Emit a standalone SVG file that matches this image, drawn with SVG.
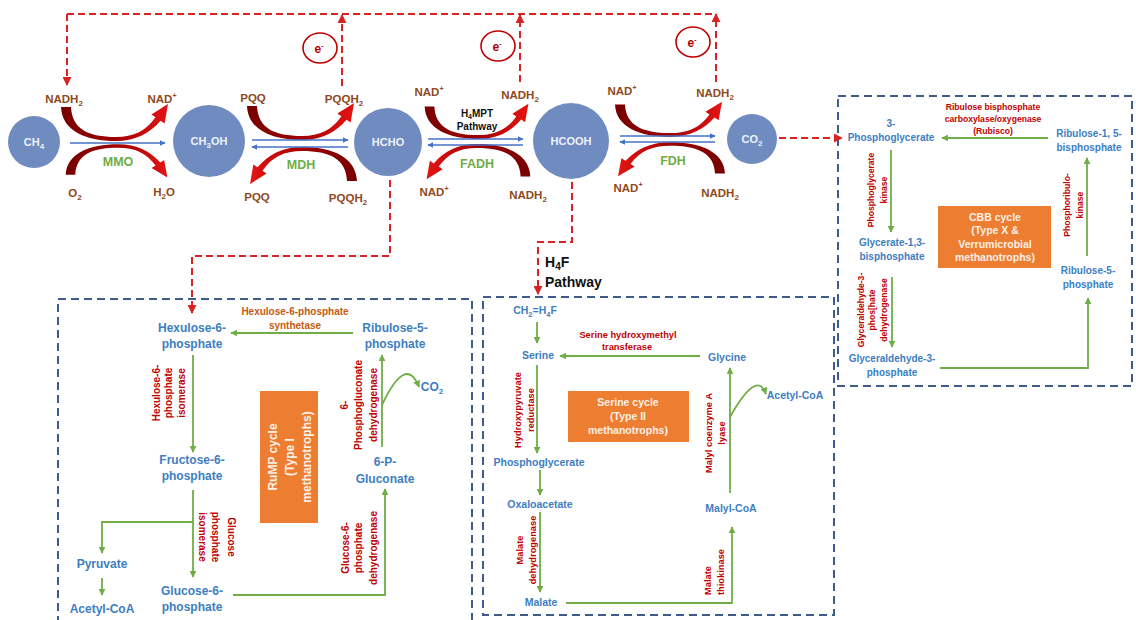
<svg xmlns="http://www.w3.org/2000/svg" width="1136" height="620" viewBox="0 0 1136 620">
<style>
text{font-family:"Liberation Sans",Arial,sans-serif;font-weight:bold;}
.c{fill:#6F8BC0;}
.ct{fill:#EEF2FA;font-size:11px;text-anchor:middle;}
.br{fill:#8E4A1E;font-size:11.5px;text-anchor:middle;}
.gr{fill:#70AD47;font-size:12.5px;text-anchor:middle;}
.bk{fill:#111;}
.bkm{fill:#111;text-anchor:middle;}
.b1{fill:#3D7EC2;font-size:12px;text-anchor:middle;}
.b2{fill:#3D7EC2;font-size:10.5px;text-anchor:middle;}
.b3{fill:#3D7EC2;font-size:10px;text-anchor:middle;}
.r1{fill:#C00000;font-size:10px;text-anchor:middle;}
.r2{fill:#C00000;font-size:9.3px;text-anchor:middle;}
.r2s{fill:#C00000;font-size:9.3px;text-anchor:start;}
.r3{fill:#C00000;font-size:8.6px;text-anchor:middle;}
.or{fill:#C55A11;font-size:10px;text-anchor:middle;}
.ob{fill:#ED7D31;}
.ot{fill:#FDF0E6;text-anchor:middle;}
.box{fill:none;stroke:#3E5C8A;stroke-width:2;stroke-dasharray:8 5;}
.gl{fill:none;stroke:#70AD47;stroke-width:1.8;}
.bl{fill:none;stroke:#4472C4;stroke-width:1.5;}
.rd{fill:none;stroke:#D92323;stroke-width:2;stroke-dasharray:7 4;}
.el{fill:none;stroke:#C00000;stroke-width:1.6;}
.et{fill:#B00000;font-size:12px;text-anchor:middle;}
</style>
<defs>
<linearGradient id="rg" x1="0" y1="0" x2="1" y2="0">
<stop offset="0" stop-color="#760000"/><stop offset="0.5" stop-color="#A00000"/><stop offset="1" stop-color="#E51414"/>
</linearGradient>
<path id="crv" fill="url(#rg)" d="M-55,-32 C-54,-8 -30,2 0,2 C20,2 34,-6 44.5,-18.3 L48.6,-15.6 L52,-35 L35.4,-24.4 L39.5,-21.7 C30,-8 18,-2 0,-2 C-28,-2 -44,-10 -45,-32 Z"/>
<marker id="ag" viewBox="0 0 10 10" refX="9" refY="5" markerWidth="7" markerHeight="7" orient="auto" markerUnits="userSpaceOnUse"><path d="M0,0 L10,5 L0,10 z" fill="#70AD47"/></marker>
<marker id="ab" viewBox="0 0 10 10" refX="9" refY="5" markerWidth="6" markerHeight="6" orient="auto" markerUnits="userSpaceOnUse"><path d="M0,0 L10,5 L0,10 z" fill="#4472C4"/></marker>
<marker id="ar" viewBox="0 0 10 10" refX="9" refY="5" markerWidth="9" markerHeight="9" orient="auto" markerUnits="userSpaceOnUse"><path d="M0,0 L10,5 L0,10 z" fill="#D92323"/></marker>
</defs>

<rect width="1136" height="620" fill="#ffffff"/>

<!-- boxes -->
<g id="box-rump"><rect class="box" x="58" y="299" width="414" height="340"/></g>
<g id="box-serine"><rect class="box" x="483" y="297" width="351" height="318"/></g>
<g id="box-cbb"><rect class="box" x="838" y="96" width="294" height="290"/></g>

<!-- connectors -->
<g id="connectors">
  <use href="#crv" transform="translate(116,139)"/>
  <use href="#crv" transform="translate(118,146) scale(0.95,-0.9)"/>
  <use href="#crv" transform="translate(302,138)"/>
  <use href="#crv" transform="translate(302,149) scale(-1,-1)"/>
  <use href="#crv" transform="translate(478,137) scale(0.97,0.95)"/>
  <use href="#crv" transform="translate(477,146) scale(-0.97,-0.95)"/>
  <use href="#crv" transform="translate(670,135) scale(1,0.95)"/>
  <use href="#crv" transform="translate(670,144) scale(-1,-0.92)"/>
  <path class="bl" d="M70,143 H165" marker-end="url(#ab)"/>
  <path class="bl" d="M252,140 H348" marker-end="url(#ab)"/>
  <path class="bl" d="M348,147 H252" marker-end="url(#ab)"/>
  <path class="bl" d="M428,139 H523" marker-end="url(#ab)"/>
  <path class="bl" d="M523,145 H428" marker-end="url(#ab)"/>
  <path class="bl" d="M620,136 H715" marker-end="url(#ab)"/>
  <path class="bl" d="M715,142 H620" marker-end="url(#ab)"/>
  <path class="rd" d="M67,14 H716"/>
  <path class="rd" d="M67,14 V85" marker-end="url(#ar)"/>
  <path class="rd" d="M342,86 V15" marker-end="url(#ar)"/>
  <path class="rd" d="M520,82 V15" marker-end="url(#ar)"/>
  <path class="rd" d="M716,82 V14" marker-end="url(#ar)"/>
  <path class="rd" d="M390,180 V256 H192 V313" marker-end="url(#ar)"/>
  <path class="rd" d="M572,182 V242 H538 V294" marker-end="url(#ar)"/>
  <path class="rd" d="M779,138 H842" marker-end="url(#ar)"/>
  <path class="gl" d="M353,333 H231" marker-end="url(#ag)"/>
  <path class="gl" d="M193,355 V452" marker-end="url(#ag)"/>
  <path class="gl" d="M193,490 V577" marker-end="url(#ag)"/>
  <path class="gl" d="M193,522 H102 V553" marker-end="url(#ag)"/>
  <path class="gl" d="M102,578 V595" marker-end="url(#ag)"/>
  <path class="gl" d="M233,595 H385 V489" marker-end="url(#ag)"/>
  <path class="gl" d="M382,447 V355" marker-end="url(#ag)"/>
  <path class="gl" d="M382,405 Q406,354 419,387" marker-end="url(#ag)"/>
  <path class="gl" d="M537,322 V343" marker-end="url(#ag)"/>
  <path class="gl" d="M700,356 H560" marker-end="url(#ag)"/>
  <path class="gl" d="M537,365 V453" marker-end="url(#ag)"/>
  <path class="gl" d="M540,470 V495" marker-end="url(#ag)"/>
  <path class="gl" d="M540,512 V592" marker-end="url(#ag)"/>
  <path class="gl" d="M566,603 H732 V527" marker-end="url(#ag)"/>
  <path class="gl" d="M730,493 V368" marker-end="url(#ag)"/>
  <path class="gl" d="M730,417 Q757,369 766,394" marker-end="url(#ag)"/>
  <path class="gl" d="M1048,138 H942" marker-end="url(#ag)"/>
  <path class="gl" d="M891,150 V232" marker-end="url(#ag)"/>
  <path class="gl" d="M892,277 V347" marker-end="url(#ag)"/>
  <path class="gl" d="M940,368 H1088 V298" marker-end="url(#ag)"/>
  <path class="gl" d="M1087,256 V158" marker-end="url(#ag)"/>
</g>

<!-- top metabolites -->
<g id="ch4"><circle class="c" cx="34" cy="142" r="26"/><text class="ct" x="34" y="146">CH<tspan dy="3" font-size="8">4</tspan></text></g>
<g id="ch3oh"><circle class="c" cx="209" cy="141" r="36"/><text class="ct" x="209" y="145" font-size="11.5">CH<tspan dy="3" font-size="8">3</tspan><tspan dy="-3">OH</tspan></text></g>
<g id="hcho"><circle class="c" cx="388" cy="142" r="34"/><text class="ct" x="388" y="146">HCHO</text></g>
<g id="hcooh"><circle class="c" cx="571" cy="141" r="38"/><text class="ct" x="571" y="145">HCOOH</text></g>
<g id="co2"><circle class="c" cx="752" cy="139" r="25"/><text class="ct" x="752" y="143">CO<tspan dy="3" font-size="8">2</tspan></text></g>

<g id="cofactors">
  <text class="br" x="64" y="103">NADH<tspan dy="3" font-size="8">2</tspan></text>
  <text class="br" x="162" y="103">NAD<tspan dy="-5" font-size="7">+</tspan></text>
  <text class="br" x="75" y="197">O<tspan dy="3" font-size="8">2</tspan></text>
  <text class="br" x="164" y="196">H<tspan dy="3" font-size="8">2</tspan><tspan dy="-3">O</tspan></text>
  <text class="br" x="253" y="102">PQQ</text>
  <text class="br" x="344" y="103">PQQH<tspan dy="3" font-size="8">2</tspan></text>
  <text class="br" x="257" y="201">PQQ</text>
  <text class="br" x="348" y="202">PQQH<tspan dy="3" font-size="8">2</tspan></text>
  <text class="br" x="429" y="96">NAD<tspan dy="-5" font-size="7">+</tspan></text>
  <text class="br" x="520" y="99">NADH<tspan dy="3" font-size="8">2</tspan></text>
  <text class="br" x="434" y="196">NAD<tspan dy="-5" font-size="7">+</tspan></text>
  <text class="br" x="528" y="199">NADH<tspan dy="3" font-size="8">2</tspan></text>
  <text class="br" x="622" y="95">NAD<tspan dy="-5" font-size="7">+</tspan></text>
  <text class="br" x="715" y="97">NADH<tspan dy="3" font-size="8">2</tspan></text>
  <text class="br" x="628" y="192">NAD<tspan dy="-5" font-size="7">+</tspan></text>
  <text class="br" x="720" y="197">NADH<tspan dy="3" font-size="8">2</tspan></text>
</g>
<g id="enzymes-top">
  <text class="gr" x="118" y="166">MMO</text>
  <text class="gr" x="301" y="169">MDH</text>
  <text class="gr" x="477" y="168">FADH</text>
  <text class="gr" x="673" y="165">FDH</text>
  <text class="bkm" x="477" y="117" font-size="10">H<tspan dy="2" font-size="7">4</tspan><tspan dy="-2">MPT</tspan></text>
  <text class="bkm" x="477" y="130" font-size="10">Pathway</text>
</g>
<g id="electrons">
  <ellipse class="el" cx="320" cy="48" rx="17" ry="15"/><text class="et" x="319" y="53">e<tspan dy="-5" font-size="7">-</tspan></text>
  <ellipse class="el" cx="498" cy="46" rx="17" ry="15"/><text class="et" x="497" y="51">e<tspan dy="-5" font-size="7">-</tspan></text>
  <ellipse class="el" cx="693" cy="42" rx="17" ry="15"/><text class="et" x="692" y="47">e<tspan dy="-5" font-size="7">-</tspan></text>
</g>
<g id="h4f-pathway">
  <text class="bk" x="545" y="267" font-size="14">H<tspan dy="3" font-size="10">4</tspan><tspan dy="-3">F</tspan></text>
  <text class="bk" x="545" y="287" font-size="14">Pathway</text>
</g>

<!-- RuMP cycle -->
<g id="hexulose6p"><text class="b1" x="192" y="332">Hexulose-6-</text><text class="b1" x="192" y="348">phosphate</text></g>
<g id="ribulose5p-rump"><text class="b1" x="395" y="332">Ribulose-5-</text><text class="b1" x="395" y="348">phosphate</text></g>
<g id="fructose6p"><text class="b1" x="192" y="464">Fructose-6-</text><text class="b1" x="192" y="480">phosphate</text></g>
<g id="glucose6p"><text class="b1" x="192" y="595">Glucose-6-</text><text class="b1" x="192" y="611">phosphate</text></g>
<g id="6pgluconate"><text class="b1" x="385" y="466">6-P-</text><text class="b1" x="385" y="483">Gluconate</text></g>
<g id="pyruvate"><text class="b1" x="102" y="568">Pyruvate</text></g>
<g id="acetylcoa-rump"><text class="b1" x="102" y="613">Acetyl-CoA</text></g>
<g id="co2-rump"><text class="b1" x="432" y="391" font-size="11">CO<tspan dy="3" font-size="8">2</tspan></text></g>
<g id="rump-labels">
  <text class="or" x="295" y="315">Hexulose-6-phosphate</text>
  <text class="or" x="295" y="329">synthetase</text>
  <text class="r1" transform="translate(160,393) rotate(-90)">Hexulose-6-</text>
  <text class="r1" transform="translate(172,393) rotate(-90)">phosphate</text>
  <text class="r1" transform="translate(185,393) rotate(-90)">isomerase</text>
  <text class="r1" transform="translate(228,537) rotate(90)">Glucose</text>
  <text class="r1" transform="translate(212,537) rotate(90)">phosphate</text>
  <text class="r1" transform="translate(199,537) rotate(90)">isomerase</text>
  <text class="r1" transform="translate(348,405) rotate(-90)">6-</text>
  <text class="r1" transform="translate(362,405) rotate(-90)">Phosphogluconate</text>
  <text class="r1" transform="translate(377,405) rotate(-90)">dehydrogenase</text>
  <text class="r1" transform="translate(349,548) rotate(-90)">Glucose-6-</text>
  <text class="r1" transform="translate(362,548) rotate(-90)">phosphate</text>
  <text class="r1" transform="translate(377,548) rotate(-90)">dehydrogenase</text>
</g>
<g id="rump-cycle">
  <rect class="ob" x="260" y="391" width="58" height="132"/>
  <text class="ot" font-size="12" transform="translate(277,457) rotate(-90)">RuMP cycle</text>
  <text class="ot" font-size="12" transform="translate(294,457) rotate(-90)">(Type I</text>
  <text class="ot" font-size="12" transform="translate(311,457) rotate(-90)">methanotrophs)</text>
</g>

<!-- Serine cycle -->
<g id="ch2h4f"><text class="b2" x="535" y="314">CH<tspan dy="3" font-size="7.5">2</tspan><tspan dy="-3">=H</tspan><tspan dy="3" font-size="7.5">4</tspan><tspan dy="-3">F</tspan></text></g>
<g id="serine"><text class="b2" x="538" y="359">Serine</text></g>
<g id="phosphoglycerate"><text class="b2" x="539" y="466">Phosphoglycerate</text></g>
<g id="oxaloacetate"><text class="b2" x="540" y="508">Oxaloacetate</text></g>
<g id="malate"><text class="b2" x="541" y="606">Malate</text></g>
<g id="glycine"><text class="b2" x="727" y="361">Glycine</text></g>
<g id="acetylcoa-serine"><text class="b2" x="795" y="399">Acetyl-CoA</text></g>
<g id="malylcoa"><text class="b2" x="731" y="512">Malyl-CoA</text></g>
<g id="serine-labels">
  <text class="r2" x="628" y="338">Serine hydroxymethyl</text>
  <text class="r2" x="627" y="350">transferase</text>
  <text class="r2" transform="translate(521,410) rotate(-90)">Hydroxypyruvate</text>
  <text class="r2" transform="translate(534,410) rotate(-90)">reductase</text>
  <text class="r2" transform="translate(523,550) rotate(-90)">Malate</text>
  <text class="r2" transform="translate(536,550) rotate(-90)">dehydrogenase</text>
  <text class="r2" transform="translate(712,433) rotate(-90)">Malyl coenzyme A</text>
  <text class="r2" transform="translate(725,433) rotate(-90)">lyase</text>
  <text class="r2s" transform="translate(711,595) rotate(-90)">Malate</text>
  <text class="r2s" transform="translate(724,595) rotate(-90)">thiokinase</text>
</g>
<g id="serine-cycle">
  <rect class="ob" x="568" y="391" width="121" height="51"/>
  <text class="ot" font-size="10.5" x="628" y="406">Serine cycle</text>
  <text class="ot" font-size="10.5" x="628" y="420">(Type II</text>
  <text class="ot" font-size="10.5" x="628" y="434">methanotrophs)</text>
</g>

<!-- CBB cycle -->
<g id="3pg"><text class="b3" x="891" y="127">3-</text><text class="b3" x="891" y="141">Phosphoglycerate</text></g>
<g id="rubp"><text class="b3" x="1089" y="137">Ribulose-1, 5-</text><text class="b3" x="1089" y="151">bisphosphate</text></g>
<g id="g13bp"><text class="b3" x="892" y="246">Glycerate-1,3-</text><text class="b3" x="892" y="260">bisphosphate</text></g>
<g id="g3p"><text class="b3" x="892" y="362">Glyceraldehyde-3-</text><text class="b3" x="892" y="376">phosphate</text></g>
<g id="ru5p-cbb"><text class="b3" x="1088" y="274">Ribulose-5-</text><text class="b3" x="1088" y="288">phosphate</text></g>
<g id="cbb-labels">
  <text class="r3" x="993" y="110">Ribulose bisphosphate</text>
  <text class="r3" x="993" y="122">carboxylase/oxygenase</text>
  <text class="r3" x="993" y="134">(Rubisco)</text>
  <text class="r3" transform="translate(874,190) rotate(-90)">Phosphoglycerate</text>
  <text class="r3" transform="translate(887,190) rotate(-90)">kinase</text>
  <text class="r3" transform="translate(864,310) rotate(-90)">Glyceraldehyde-3-</text>
  <text class="r3" transform="translate(875,310) rotate(-90)">phos[hate</text>
  <text class="r3" transform="translate(887,310) rotate(-90)">dehydrogenase</text>
  <text class="r3" transform="translate(1070,205) rotate(-90)">Phosphoribulo-</text>
  <text class="r3" transform="translate(1083,205) rotate(-90)">kinase</text>
</g>
<g id="cbb-cycle">
  <rect class="ob" x="938" y="206" width="113" height="62"/>
  <text class="ot" font-size="10.5" x="995" y="221">CBB cycle</text>
  <text class="ot" font-size="10.5" x="995" y="234">(Type X &amp;</text>
  <text class="ot" font-size="10.5" x="995" y="248">Verrumicrobial</text>
  <text class="ot" font-size="10.5" x="995" y="261">methanotrophs)</text>
</g>
</svg>
